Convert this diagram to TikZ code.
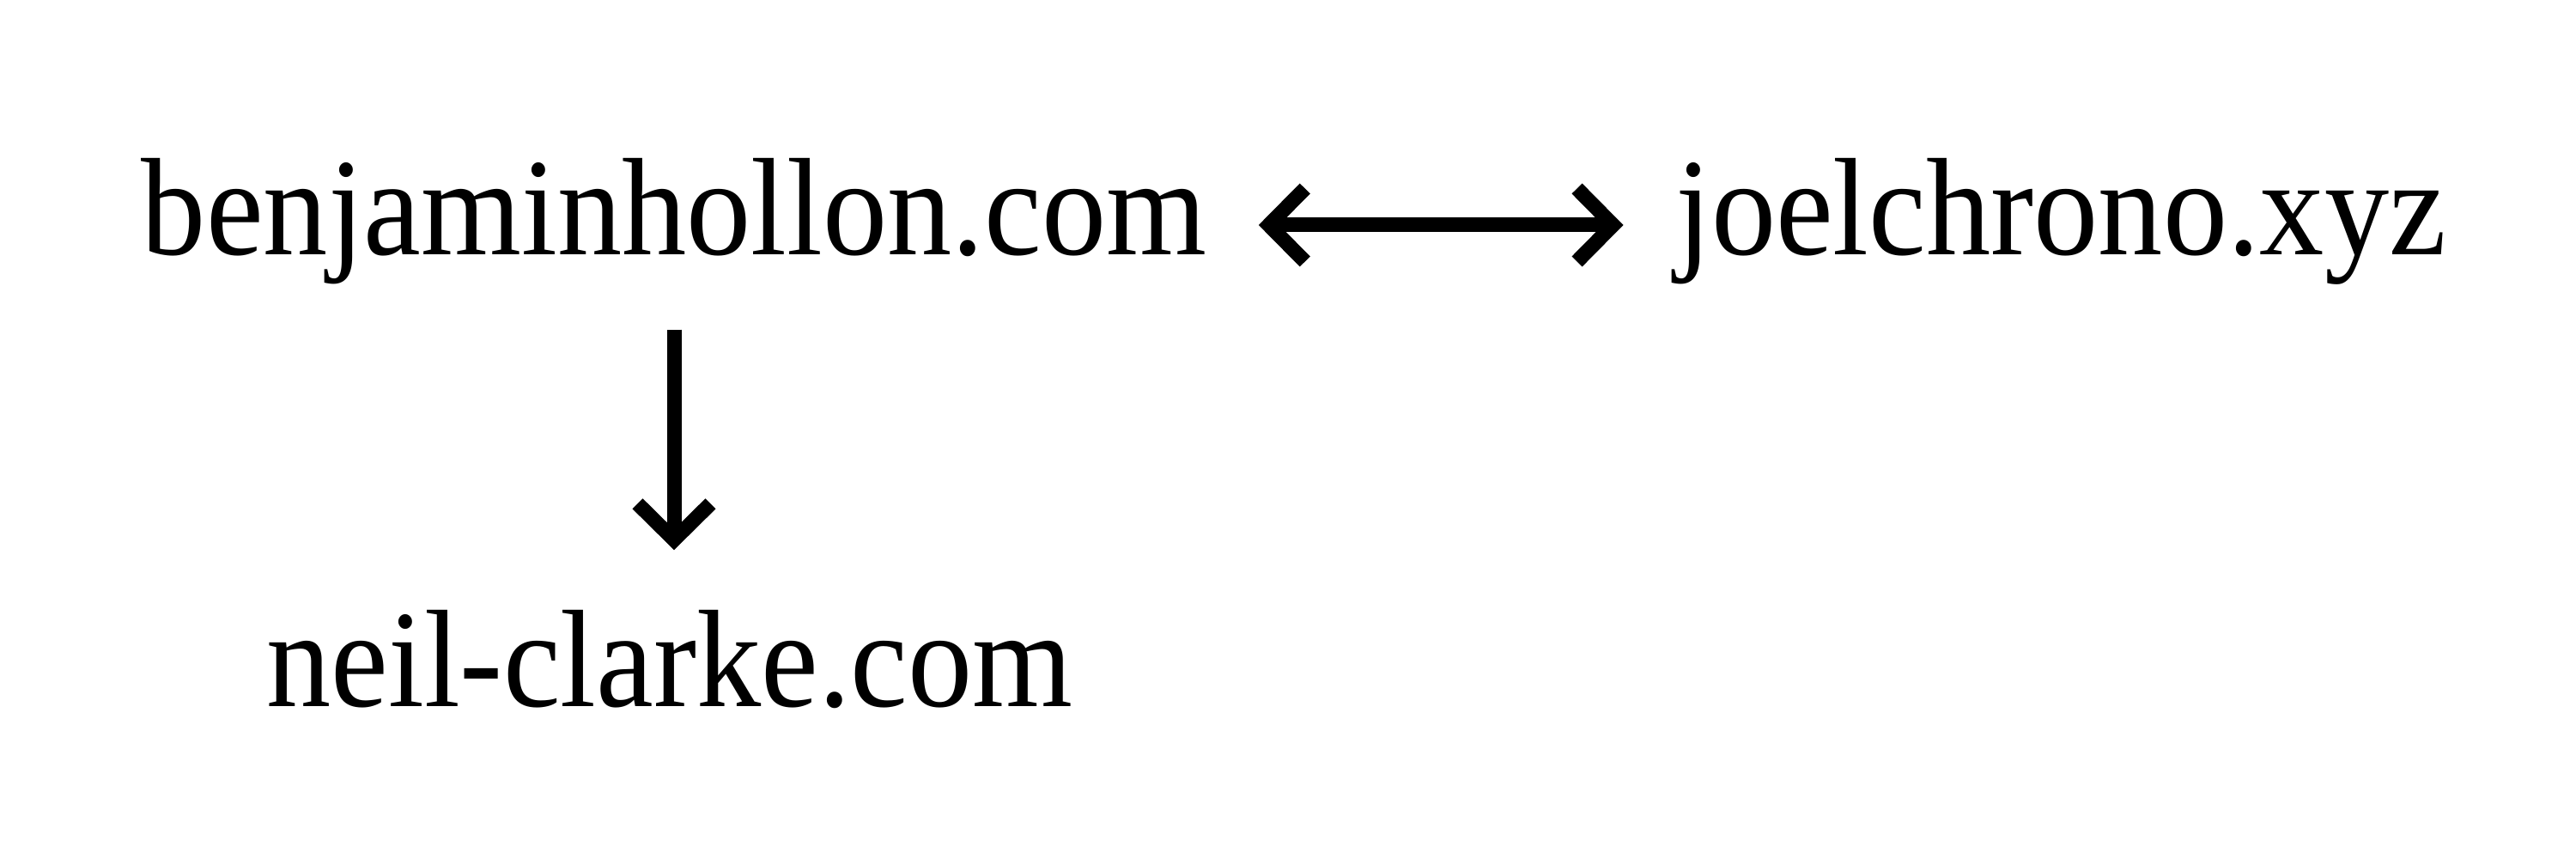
\documentclass[tikz,border=0pt]{standalone}
\usepackage{fontspec}
\setmainfont{Liberation Serif}
\usetikzlibrary{arrows.meta}
\newcommand\squeeze[1]{\scalebox{0.93}[1]{#1}}
\tikzset{
  site/.style={inner sep=0pt, anchor=base, text height=0.9cm, text depth=0.2cm,
    font=\fontsize{46pt}{52pt}\selectfont},
  link/.style={line width=0.17cm, line join=miter,
    arrows={Straight Barb[length=0.42cm, width=0.85cm]-Straight Barb[length=0.42cm, width=0.85cm]}},
  onelink/.style={line width=0.17cm, line join=miter,
    arrows={-Straight Barb[length=0.42cm, width=0.85cm]}}
}
\begin{document}
\begin{tikzpicture}
\useasboundingbox (0,0) rectangle (30,-10);
\node[site] (benj) at (7.85,-2.97) {\squeeze{benjaminhollon.com}};
\node[site] (joel) at (24.0,-2.97) {\squeeze{joelchrono.xyz}};
\node[site] (neil) at (7.80,-8.23) {\squeeze{neil-clarke.com}};
\draw[link, shorten <=0.6cm, shorten >=0.6cm] (benj) -- (joel);
\draw[onelink, shorten <=0.66cm, shorten >=0.92cm] (benj.south) -- (benj.south |- neil.north);
\end{tikzpicture}
\end{document}
